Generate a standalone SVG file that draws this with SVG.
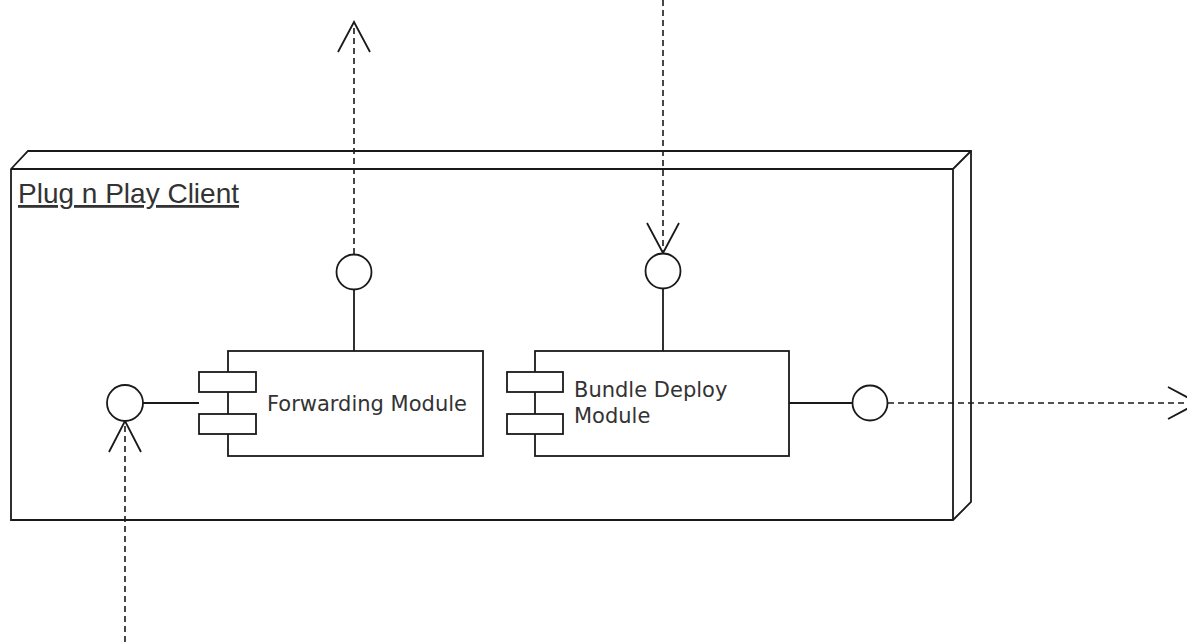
<svg xmlns="http://www.w3.org/2000/svg" width="1187" height="642" viewBox="0 0 1187 642">
<style>
.s{fill:#fff;stroke:#1a1a1a;stroke-width:1.8}
.n{fill:none;stroke:#1a1a1a;stroke-width:1.8}
.d{fill:none;stroke:#1a1a1a;stroke-width:1.6;stroke-dasharray:6 4}
.t{font-family:"DejaVu Sans",Verdana,sans-serif;font-size:21px;fill:#333}
.lbl{font-family:"Liberation Sans",Arial,sans-serif;font-size:28px;fill:#333;text-decoration:underline}
</style>
<rect width="1187" height="642" fill="#fff"/>
<g id="node-client">
<path class="s" d="M11,169 L28,151 L971,151 L971,502 L953,520 L11,520 Z"/>
<path class="n" d="M11,169 L953,169 L953,520 M953,169 L971,151"/>
<text class="lbl" x="18" y="203">Plug n Play Client</text>
</g>
<g id="node-forwarding">
<rect class="s" x="228" y="351" width="255" height="105"/>
<rect class="s" x="199" y="372" width="57" height="20"/>
<rect class="s" x="199" y="414" width="57" height="20"/>
<text class="t" x="267" y="411">Forwarding Module</text>
</g>
<g id="node-bundle">
<rect class="s" x="535" y="351" width="254" height="105"/>
<rect class="s" x="507" y="372" width="56" height="20"/>
<rect class="s" x="507" y="414" width="56" height="20"/>
<text class="t" x="574" y="397">Bundle Deploy</text>
<text class="t" x="574" y="423">Module</text>
</g>
<g id="connectors">
<line class="n" x1="354" y1="290" x2="354" y2="351"/>
<line class="n" x1="663" y1="289" x2="663" y2="351"/>
<line class="n" x1="789" y1="403" x2="852" y2="403"/>
<line class="n" x1="143" y1="403" x2="199" y2="403"/>
<line class="d" x1="354" y1="254" x2="354" y2="22"/>
<path class="n" d="M338,52 L354,22 L370,52"/>
<line class="d" x1="663" y1="0" x2="663" y2="253"/>
<path class="n" d="M647,223 L663,253 L679,223"/>
<line class="d" x1="888" y1="403" x2="1198" y2="403"/>
<path class="n" d="M1168,387 L1198,403 L1168,419"/>
<line class="d" x1="125" y1="642" x2="125" y2="421"/>
<path class="n" d="M109,452 L125,421 L141,452"/>
</g>
<g id="node-ports">
<circle class="s" cx="354" cy="272" r="17.5"/>
<circle class="s" cx="663" cy="271" r="17.5"/>
<circle class="s" cx="870" cy="403" r="17.5"/>
<circle class="s" cx="125" cy="403" r="18"/>
</g>
</svg>
